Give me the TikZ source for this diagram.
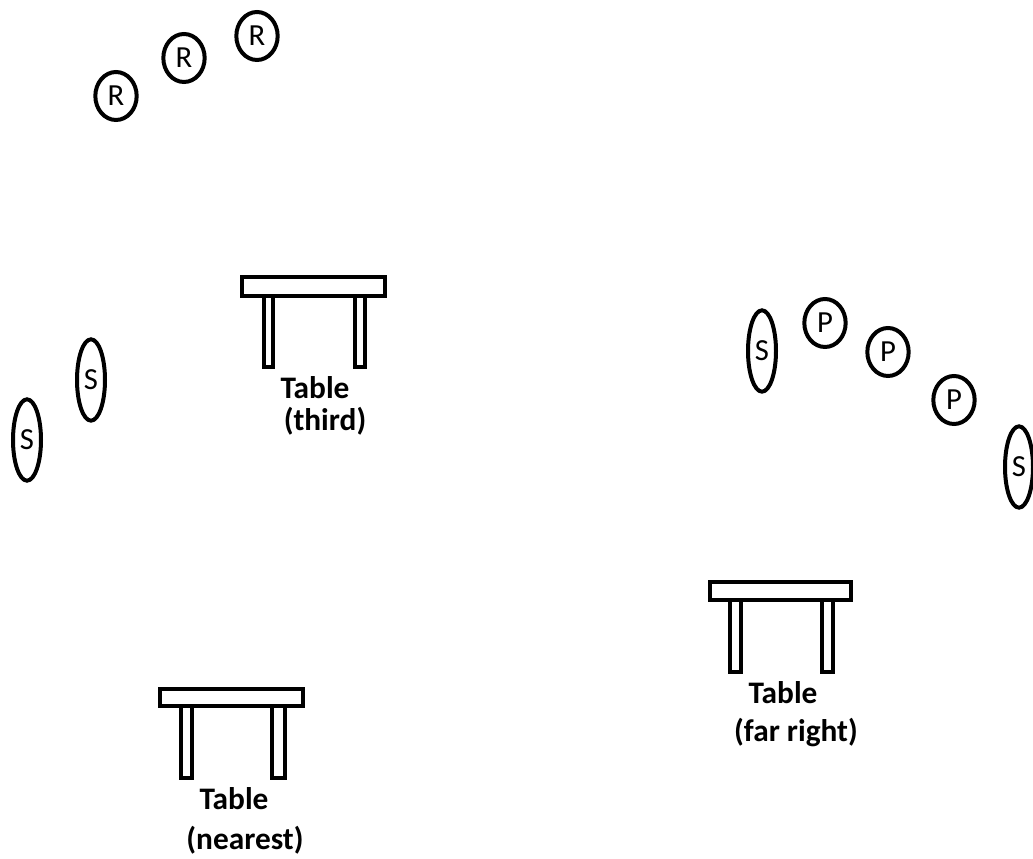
\documentclass[tikz,border=0pt]{standalone}
\usepackage{fontspec}
\setmainfont{Carlito}
\usetikzlibrary{shapes.geometric}
\tikzset{
  seat/.style={draw=black, line width=3pt, ellipse, inner sep=0pt, font=\fontsize{23}{26}\selectfont},
  round seat/.style={seat, minimum width=31pt, minimum height=36pt},
  long seat/.style={seat, minimum width=21pt, minimum height=61pt},
  tabletop/.style={draw=black, line width=3pt, fill=white},
  label/.style={font=\fontsize{23.5}{28}\selectfont\bfseries, anchor=base, inner sep=0pt},
}
\begin{document}
\begin{tikzpicture}[x=0.75pt, y=-0.75pt]
\useasboundingbox (0,0) rectangle (1033,859);
% R seats
\node[round seat] (r1) at (116,96) {R};
\node[round seat] (r2) at (184,58) {R};
\node[round seat] (r3) at (257,36) {R};
% S seats left
\node[long seat] (s1) at (91,380) {S};
\node[long seat] (s2) at (27,440) {S};
% right group
\node[long seat] (s3) at (762,351) {S};
\node[round seat] (p1) at (825,323) {P};
\node[round seat] (p2) at (888,352) {P};
\node[round seat] (p3) at (954,400) {P};
\node[long seat] (s4) at (1019,467) {S};
% table third
\draw[tabletop] (264,296) rectangle (273,367);
\draw[tabletop] (355,296) rectangle (365,367);
\draw[tabletop] (242,277) rectangle (385,296);
\node[label] (t3a) at (315,399) {Table};
\node[label] (t3b) at (325,431) {(third)};
% table nearest
\draw[tabletop] (181,706) rectangle (192,778);
\draw[tabletop] (272,706) rectangle (285,778);
\draw[tabletop] (160,689) rectangle (303,706);
\node[label] (t1a) at (234,809) {Table};
\node[label] (t1b) at (245,849) {(nearest)};
% table far right
\draw[tabletop] (730,600) rectangle (741,672);
\draw[tabletop] (822,600) rectangle (833,672);
\draw[tabletop] (710,582) rectangle (851,600);
\node[label] (t2a) at (783,703) {Table};
\node[label] (t2b) at (796,741) {(far right)};
\end{tikzpicture}
\end{document}
